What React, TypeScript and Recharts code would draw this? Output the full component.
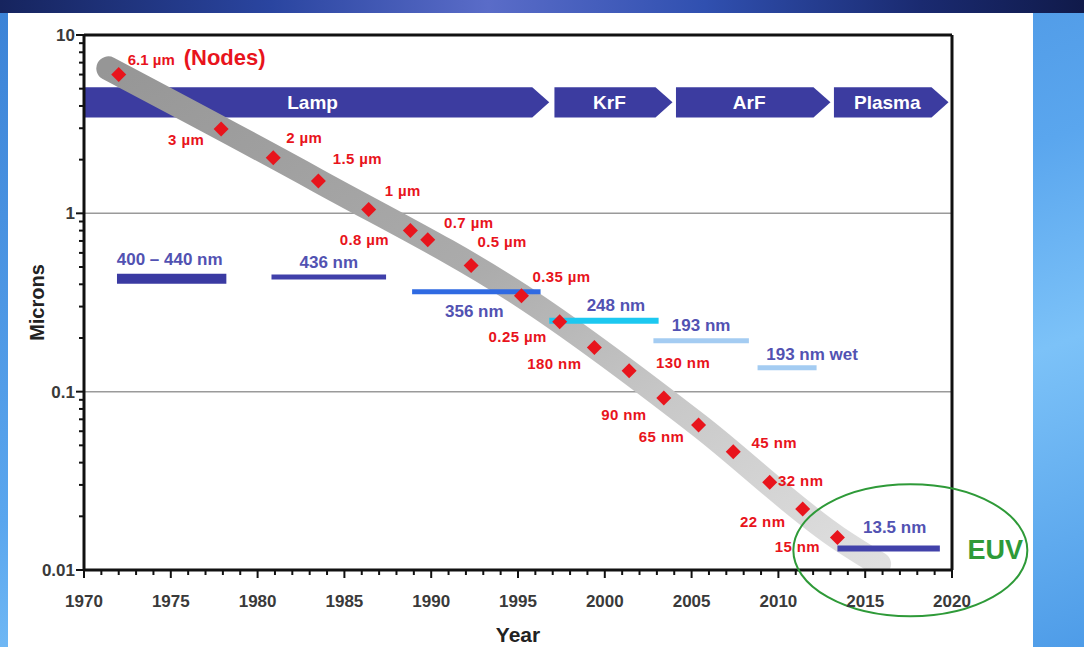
import React from 'react'
import { ComposedChart, Line, Scatter, XAxis, YAxis, ReferenceLine, ReferenceArea, ReferenceDot } from 'recharts'

// lithography technology nodes (red diamonds)
const nodeYears = [1972, 1977.9, 1980.9, 1983.5, 1986.4, 1988.8, 1989.8, 1992.3, 1995.2, 1997.4, 1999.4, 2001.4, 2003.4, 2005.4, 2007.4, 2009.5, 2011.4, 2013.4]
const nodeMicrons = [6.0, 2.97, 2.05, 1.52, 1.05, 0.8, 0.71, 0.51, 0.345, 0.247, 0.177, 0.131, 0.092, 0.065, 0.046, 0.031, 0.022, 0.0152]
const nodeLabels = ['6.1 µm', '3 µm', '2 µm', '1.5 µm', '1 µm', '0.8 µm', '0.7 µm', '0.5 µm', '0.35 µm', '0.25 µm', '180 nm', '130 nm', '90 nm', '65 nm', '45 nm', '32 nm', '22 nm', '15 nm']

// grey trend band
const bandYears = [1971.4, 1983.5, 1995.2, 2005.4, 2013.4, 2015.8]
const bandMicrons = [6.5, 1.52, 0.345, 0.065, 0.0152, 0.0108]

// exposure wavelengths
const sourceNames = ['400 – 440 nm', '436 nm', '356 nm', '248 nm', '193 nm', '193 nm wet', '13.5 nm']
const sourceStart = [1971.9, 1980.8, 1988.9, 1996.8, 2002.8, 2008.8, 2013.4]
const sourceEnd = [1978.2, 1987.4, 1996.3, 2003.1, 2008.3, 2012.2, 2019.3]
const sourceMicrons = [0.43, 0.44, 0.363, 0.25, 0.193, 0.136, 0.0132]

// light source eras
const phaseNames = ['Lamp', 'KrF', 'ArF', 'Plasma']
const phaseStart = [1970, 1997.1, 2004.1, 2013.2]
const phaseEnd = [1996.8, 2003.9, 2013.0, 2019.8]
const phaseTop = 5.1
const phaseBottom = 3.45

// EUV highlight
const euvYear = 2017.6
const euvMicrons = 0.0129

const xMajorTicks = [1970, 1975, 1980, 1985, 1990, 1995, 2000, 2005, 2010, 2015, 2020]
const xTicks = Array.from({ length: 51 }, (_, i) => 1970 + i)
const yMajorTicks = [0.01, 0.1, 1, 10]
const yTicks = [
  0.01, 0.02, 0.03, 0.04, 0.05, 0.06, 0.07, 0.08, 0.09,
  0.1, 0.2, 0.3, 0.4, 0.5, 0.6, 0.7, 0.8, 0.9,
  1, 2, 3, 4, 5, 6, 7, 8, 9, 10,
]

const nodeData = nodeYears.map((x, i) => ({ x, y: nodeMicrons[i], i, label: nodeLabels[i] }))
const bandData = bandYears.map((x, i) => ({ x, y: bandMicrons[i] }))

// styling
const FONT = '"Liberation Sans", Arial, sans-serif'
const RED = '#e8141c'
const LABEL_BLUE = '#5252b2'
const NODE_LABEL_OFFSETS: [number, number][] = [
  [9, -10], [-35, 11], [31, -20], [39, -22], [34, -19], [-46, 9], [41, -17], [31, -23], [40, -19],
  [-42, 15], [-40, 17], [54, -8], [-40, 17], [-37, 12], [41, -9], [31, -1], [-40, 13], [-40, 9],
]
const SOURCE_STYLE = [
  { color: '#3a3aa2', width: 10, dx: -2, dy: -20 },
  { color: '#4040aa', width: 5, dx: 0, dy: -15 },
  { color: '#2f6ae2', width: 5, dx: -2, dy: 19 },
  { color: '#1cc8f0', width: 6, dx: 12, dy: -16 },
  { color: '#a4ccf2', width: 5, dx: 0, dy: -16 },
  { color: '#a4ccf2', width: 5, dx: 25, dy: -14 },
  { color: '#4242aa', width: 6, dx: 6, dy: -21 },
]

const XTick = (props: any) => {
  const { x, y, payload } = props
  const major = xMajorTicks.includes(payload.value)
  return (
    <g>
      <line x1={x} x2={x} y1={y} y2={y + (major ? 8 : 5)} stroke="#111" strokeWidth={2} />
      {major && (
        <text x={x} y={y + 37} textAnchor="middle" fontFamily={FONT} fontSize={17} fontWeight={700} fill="#3a3a3a">
          {payload.value}
        </text>
      )}
    </g>
  )
}

const YTick = (props: any) => {
  const { x, y, payload } = props
  const major = yMajorTicks.includes(payload.value)
  return (
    <g>
      <line x1={x - (major ? 8 : 5)} x2={x} y1={y} y2={y} stroke="#111" strokeWidth={2} />
      {major && (
        <text x={x - 9} y={y + 6} textAnchor="end" fontFamily={FONT} fontSize={17} fontWeight={700} fill="#3a3a3a">
          {payload.value}
        </text>
      )}
    </g>
  )
}

const PhaseArrow = (props: any) => {
  const { x, y, width, height, name } = props
  const tip = 17
  const pts = [
    [x, y], [x + width - tip, y], [x + width, y + height / 2], [x + width - tip, y + height], [x, y + height],
  ].map((p) => p.join(',')).join(' ')
  return (
    <g>
      <polygon points={pts} fill="#3c3ca0" />
      <text x={x + width / 2 - 4} y={y + height / 2 + 7} textAnchor="middle" fontFamily={FONT} fontSize={19} fontWeight={700} fill="#fff">
        {name}
      </text>
    </g>
  )
}

const SourceLabel = (props: any) => {
  const { viewBox, text, dx, dy } = props
  if (!viewBox) return null
  return (
    <text x={viewBox.x + viewBox.width / 2 + dx} y={viewBox.y + dy + 6} textAnchor="middle" fontFamily={FONT} fontSize={17} fontWeight={700} fill={LABEL_BLUE}>
      {text}
    </text>
  )
}

const renderNode = (p: any) => {
  const { cx, cy } = p
  const i = p.payload?.i ?? p.i
  const label = p.payload?.label ?? p.label
  const [dx, dy] = NODE_LABEL_OFFSETS[i]
  const s = 7.5
  return (
    <g>
      <path d={`M${cx},${cy - s} L${cx + s},${cy} L${cx},${cy + s} L${cx - s},${cy} Z`} fill={RED} />
      {i === 0 ? (
        <text x={cx + dx} y={cy + dy} fontFamily={FONT} fontWeight={700} fill={RED}>
          <tspan fontSize={15}>{label}</tspan>
          <tspan fontSize={22} dx={9}>(Nodes)</tspan>
        </text>
      ) : (
        <text x={cx + dx} y={cy + dy + 5} textAnchor="middle" fontFamily={FONT} fontSize={15} letterSpacing={0.4} fontWeight={700} fill={RED}>
          {label}
        </text>
      )}
    </g>
  )
}

const EuvMark = (p: any) => {
  const { cx, cy } = p
  return (
    <g>
      <ellipse cx={cx} cy={cy} rx={117} ry={66} fill="none" stroke="#2e9a38" strokeWidth={2} />
      <text x={cx + 85} y={cy + 9} textAnchor="middle" fontFamily={FONT} fontSize={27} fontWeight={700} fill="#2e9a38">
        EUV
      </text>
    </g>
  )
}

export default function App() {
  return (
    <div
      style={{
        position: 'absolute',
        left: 0,
        top: 0,
        width: 1084,
        height: 647,
        overflow: 'hidden',
        background: 'linear-gradient(160deg, #3b82d6 0%, #5aa6ee 50%, #7cc2f8 70%, #4e9ce8 100%)',
      }}
    >
      <div
        style={{
          position: 'absolute',
          left: 0,
          top: 0,
          width: 1084,
          height: 13,
          background: 'linear-gradient(90deg, #16245e 0%, #2a45a0 25%, #5a6cc8 45%, #3050b0 65%, #1a2a70 85%, #101a4a 100%)',
        }}
      />
      <div style={{ position: 'absolute', left: 8, top: 13, width: 1025, height: 634, background: '#fff' }} />
      <div style={{ position: 'absolute', left: 0, top: 0 }}>
        <ComposedChart width={1084} height={647} margin={{ top: 35, right: 132, bottom: 0, left: 0 }}>
          <defs>
            <linearGradient id="bandFill" x1="0" y1="0" x2="1" y2="1">
              <stop offset="0%" stopColor="#969696" />
              <stop offset="45%" stopColor="#acacac" />
              <stop offset="70%" stopColor="#c8c8c8" />
              <stop offset="100%" stopColor="#e0e0e0" />
            </linearGradient>
          </defs>
          <XAxis
            type="number"
            dataKey="x"
            domain={[1970, 2020]}
            ticks={xTicks}
            interval={0}
            tick={<XTick />}
            tickLine={false}
            tickSize={0}
            tickMargin={0}
            axisLine={{ stroke: '#111', strokeWidth: 3 }}
            height={77}
            allowDataOverflow
            label={{ value: 'Year', position: 'center', dy: 26, fill: '#222', fontSize: 21, fontWeight: 700, fontFamily: FONT }}
          />
          <YAxis
            type="number"
            dataKey="y"
            scale="log"
            domain={[0.01, 10]}
            ticks={yTicks}
            interval={0}
            tick={<YTick />}
            tickLine={false}
            tickSize={0}
            tickMargin={0}
            axisLine={{ stroke: '#111', strokeWidth: 3 }}
            width={84}
            allowDataOverflow
            label={{ value: 'Microns', angle: -90, position: 'center', dx: -5, fill: '#222', fontSize: 20, fontWeight: 700, fontFamily: FONT }}
          />
          <ReferenceLine y={1} stroke="#9a9a9a" strokeWidth={1.5} />
          <ReferenceLine y={0.1} stroke="#9a9a9a" strokeWidth={1.5} />
          <ReferenceLine y={10} stroke="#111" strokeWidth={3} />
          <ReferenceLine x={2020} stroke="#111" strokeWidth={3} />
          {phaseNames.map((name, i) => (
            <ReferenceArea
              key={name}
              x1={phaseStart[i]}
              x2={phaseEnd[i]}
              y1={phaseBottom}
              y2={phaseTop}
              shape={(p: any) => <PhaseArrow {...p} name={name} />}
            />
          ))}
          <Line
            data={bandData}
            dataKey="y"
            type="monotone"
            stroke="url(#bandFill)"
            strokeWidth={24}
            strokeLinecap="round"
            dot={false}
            activeDot={false}
            isAnimationActive={false}
          />
          {sourceNames.map((name, i) => (
            <ReferenceLine
              key={name}
              segment={[
                { x: sourceStart[i], y: sourceMicrons[i] },
                { x: sourceEnd[i], y: sourceMicrons[i] },
              ]}
              stroke={SOURCE_STYLE[i].color}
              strokeWidth={SOURCE_STYLE[i].width}
              label={<SourceLabel text={name} dx={SOURCE_STYLE[i].dx} dy={SOURCE_STYLE[i].dy} />}
            />
          ))}
          <Scatter data={nodeData} dataKey="y" shape={renderNode} isAnimationActive={false} />
          <ReferenceDot x={euvYear} y={euvMicrons} ifOverflow="visible" shape={EuvMark} />
        </ComposedChart>
      </div>
    </div>
  )
}
